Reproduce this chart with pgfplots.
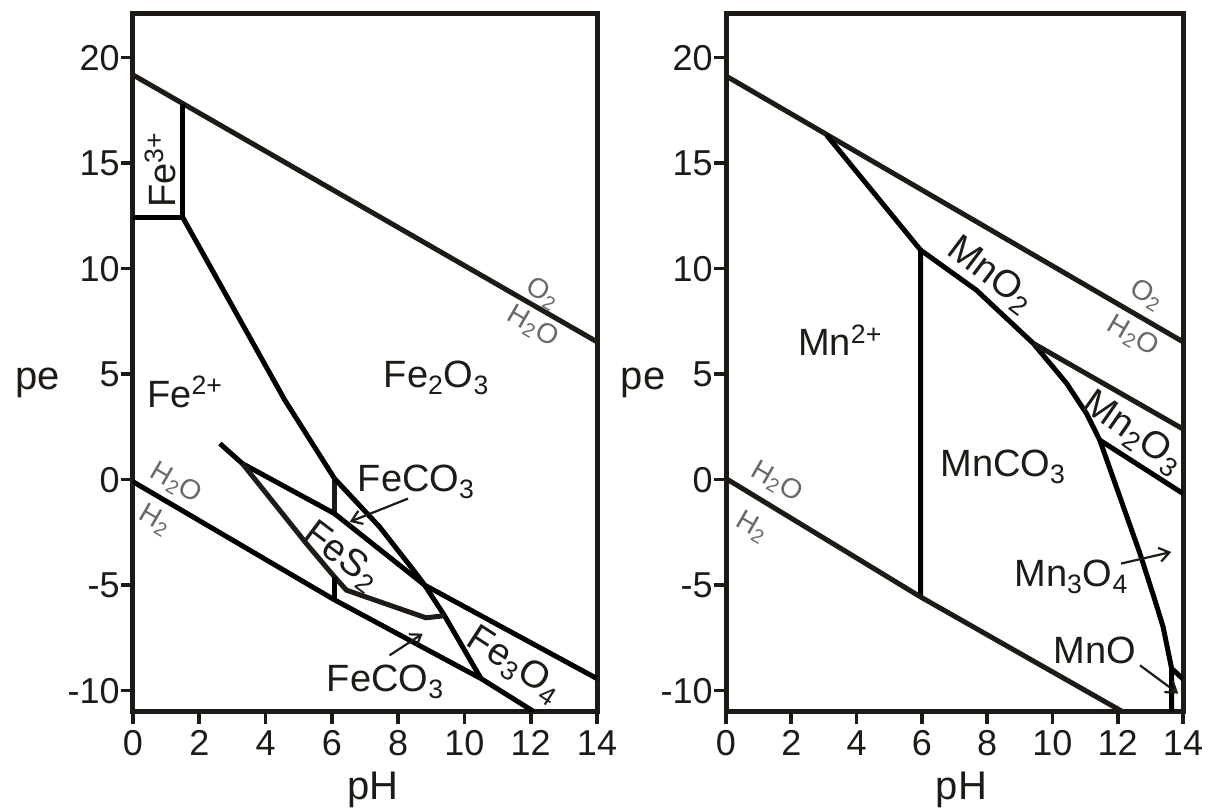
\documentclass[border=0pt]{standalone}
\usepackage{fontspec}
\setmainfont{Liberation Sans}
\usepackage{pgfplots}
\pgfplotsset{compat=1.18}
\usetikzlibrary{arrows.meta}
\definecolor{lbl}{RGB}{105,105,105}
\definecolor{ink}{RGB}{30,26,22}

\tikzset{
  lab/.style={font=\fontsize{19}{21}\selectfont, text=ink, inner sep=0pt},
  glab/.style={font=\fontsize{14}{16}\selectfont, text=lbl, inner sep=0pt},
  arr/.style={-{Straight Barb[length=5pt,width=7pt]}, line width=1.1pt, ink},
}

\pgfplotsset{
  pepanel/.style={
    scale only axis,
    xmin=0, xmax=14, ymin=-11.0, ymax=22.1,
    height=349.2pt,
    xtick={0,2,...,14}, ytick={-10,-5,...,20},
    tick align=outside, tick pos=left,
    major tick length=6pt,
    every tick/.style={line width=1.8pt, ink},
    axis line style={line width=2.5pt, ink},
    /pgf/number format/assume math mode=true,
    tick label style={font=\fontsize{18}{20}\selectfont, text=ink},
    yticklabel style={inner xsep=0.5pt},
    xlabel={pH}, ylabel={pe},
    every axis x label/.style={at={(axis description cs:0.5,0)}, anchor=center, xshift=4pt, yshift=-39pt, font=\fontsize{20}{22}\selectfont, text=ink},
    cycle list={{ink, solid, line width=2.5pt}},
    every axis plot/.append style={line width=2.5pt, no marks},
  }
}

\begin{document}
\begin{tikzpicture}
\useasboundingbox (-66.5pt,-49.15pt) rectangle (540pt,355.85pt);

% ---------------- Fe diagram ----------------
\begin{axis}[pepanel, width=232pt, at={(0pt,0pt)}, anchor=south west,
  every axis y label/.style={at={(axis description cs:0,0.5)}, anchor=center, xshift=-47.5pt, yshift=-10pt, font=\fontsize{20}{22}\selectfont, text=ink}]
% O2/H2O
\addplot coordinates {(0,19.18) (14,6.53)};
% Fe3+ field
\addplot coordinates {(0,12.43) (1.5,12.43) (1.5,17.82)};
% Fe2+/Fe2O3
\addplot coordinates {(1.5,12.43) (4.58,3.77) (6.08,0.05)};
\addplot coordinates {(6.08,0.05) (6.08,-1.61)};
% FeCO3/Fe2O3 and Fe2O3/Fe3O4
\addplot coordinates {(6.08,0.05) (7.44,-2.24) (8.54,-4.45) (8.8,-5.0) (14,-9.43)};
% upper FeS2 boundary, FeS2/Fe3O4, Fe3O4/FeCO3
\addplot coordinates {(2.62,1.71) (3.3,0.76) (6.08,-1.61) (8.8,-5.0) (9.4,-6.45) (10.5,-9.43)};
% lower FeS2 boundary
\addplot coordinates {(3.3,0.76) (5.23,-3.03) (6.08,-4.61) (6.44,-5.24) (8.84,-6.55) (9.4,-6.45)};
\addplot coordinates {(6.08,-4.61) (6.08,-5.7)};
% H2O/H2
\addplot coordinates {(0,-0.1) (6.08,-5.7) (10.5,-9.43) (12.1,-11.0)};
\addplot[arr] coordinates {(8.3,-0.9) (6.54,-2.0)};
\addplot[arr] coordinates {(7.74,-8.33) (8.74,-7.3)};

\node[lab, rotate=90] at (0.82,14.67) {Fe\textsuperscript{3+}};
\node[lab] at (1.57,4.15) {Fe\textsuperscript{2+}};
\node[lab] at (9.16,4.81) {Fe\textsubscript{2}O\textsubscript{3}};
\node[glab, rotate=-30] at (12.36,8.83) {O\textsubscript{2}};
\node[glab, rotate=-30] at (12.06,7.24) {H\textsubscript{2}O};
\node[glab, rotate=-30] at (1.3,-0.17) {H\textsubscript{2}O};
\node[glab, rotate=-30] at (0.66,-1.92) {H\textsubscript{2}};
\node[lab] at (8.55,-0.12) {FeCO\textsubscript{3}};
\node[lab] at (7.62,-9.6) {FeCO\textsubscript{3}};
\node[lab, rotate=-37] at (6.29,-3.65) {FeS\textsubscript{2}};
\node[lab, rotate=-33] at (11.5,-8.8) {Fe\textsubscript{3}O\textsubscript{4}};
\end{axis}

% ---------------- Mn diagram ----------------
\begin{axis}[pepanel, width=228.5pt, at={(296.5pt,0pt)}, anchor=south west,
  every axis y label/.style={at={(axis description cs:0,0.5)}, anchor=center, xshift=-41.5pt, yshift=-10pt, font=\fontsize{20}{22}\selectfont, text=ink},
  every axis x label/.style={at={(axis description cs:0.5,0)}, anchor=center, xshift=3.5pt, yshift=-39pt, font=\fontsize{20}{22}\selectfont, text=ink}]
% O2/H2O
\addplot coordinates {(0,19.13) (14,6.53)};
% Mn2+/MnO2 and Mn2+/MnCO3
\addplot coordinates {(3.08,16.33) (5.96,10.88) (5.96,-5.56)};
% MnO2, Mn2O3, Mn3O4, MnO / MnCO3
\addplot coordinates {(5.96,10.88) (7.67,8.98) (9.41,6.46) (10.43,4.57) (11.04,3.14) (11.45,1.87) (12.68,-3.5) (13.14,-5.72) (13.39,-6.98) (13.65,-8.95) (13.65,-11.0)};
% MnO2/Mn2O3
\addplot coordinates {(9.41,6.46) (14,2.4)};
% Mn2O3/Mn3O4
\addplot coordinates {(11.45,1.87) (14,-0.66)};
% Mn3O4/MnO
\addplot coordinates {(13.65,-8.95) (14,-9.45)};
% H2O/H2
\addplot coordinates {(0,0.05) (5.96,-5.56) (12.15,-11.0)};
\addplot[arr] coordinates {(12.1,-3.98) (13.64,-3.43)};
\addplot[arr] coordinates {(12.68,-8.8) (13.85,-10.14)};

\node[lab] at (3.5,6.61) {Mn\textsuperscript{2+}};
\node[lab, rotate=-37] at (8.11,9.7) {MnO\textsubscript{2}};
\node[glab, rotate=-30] at (12.88,8.75) {O\textsubscript{2}};
\node[glab, rotate=-30] at (12.47,6.77) {H\textsubscript{2}O};
\node[lab, rotate=-35] at (12.47,2.2) {Mn\textsubscript{2}O\textsubscript{3}};
\node[lab] at (8.49,0.6) {MnCO\textsubscript{3}};
\node[lab] at (10.58,-4.61) {Mn\textsubscript{3}O\textsubscript{4}};
\node[lab] at (11.3,-8.09) {MnO};
\node[glab, rotate=-30] at (1.55,-0.11) {H\textsubscript{2}O};
\node[glab, rotate=-30] at (0.79,-2.24) {H\textsubscript{2}};
\end{axis}
\end{tikzpicture}
\end{document}
